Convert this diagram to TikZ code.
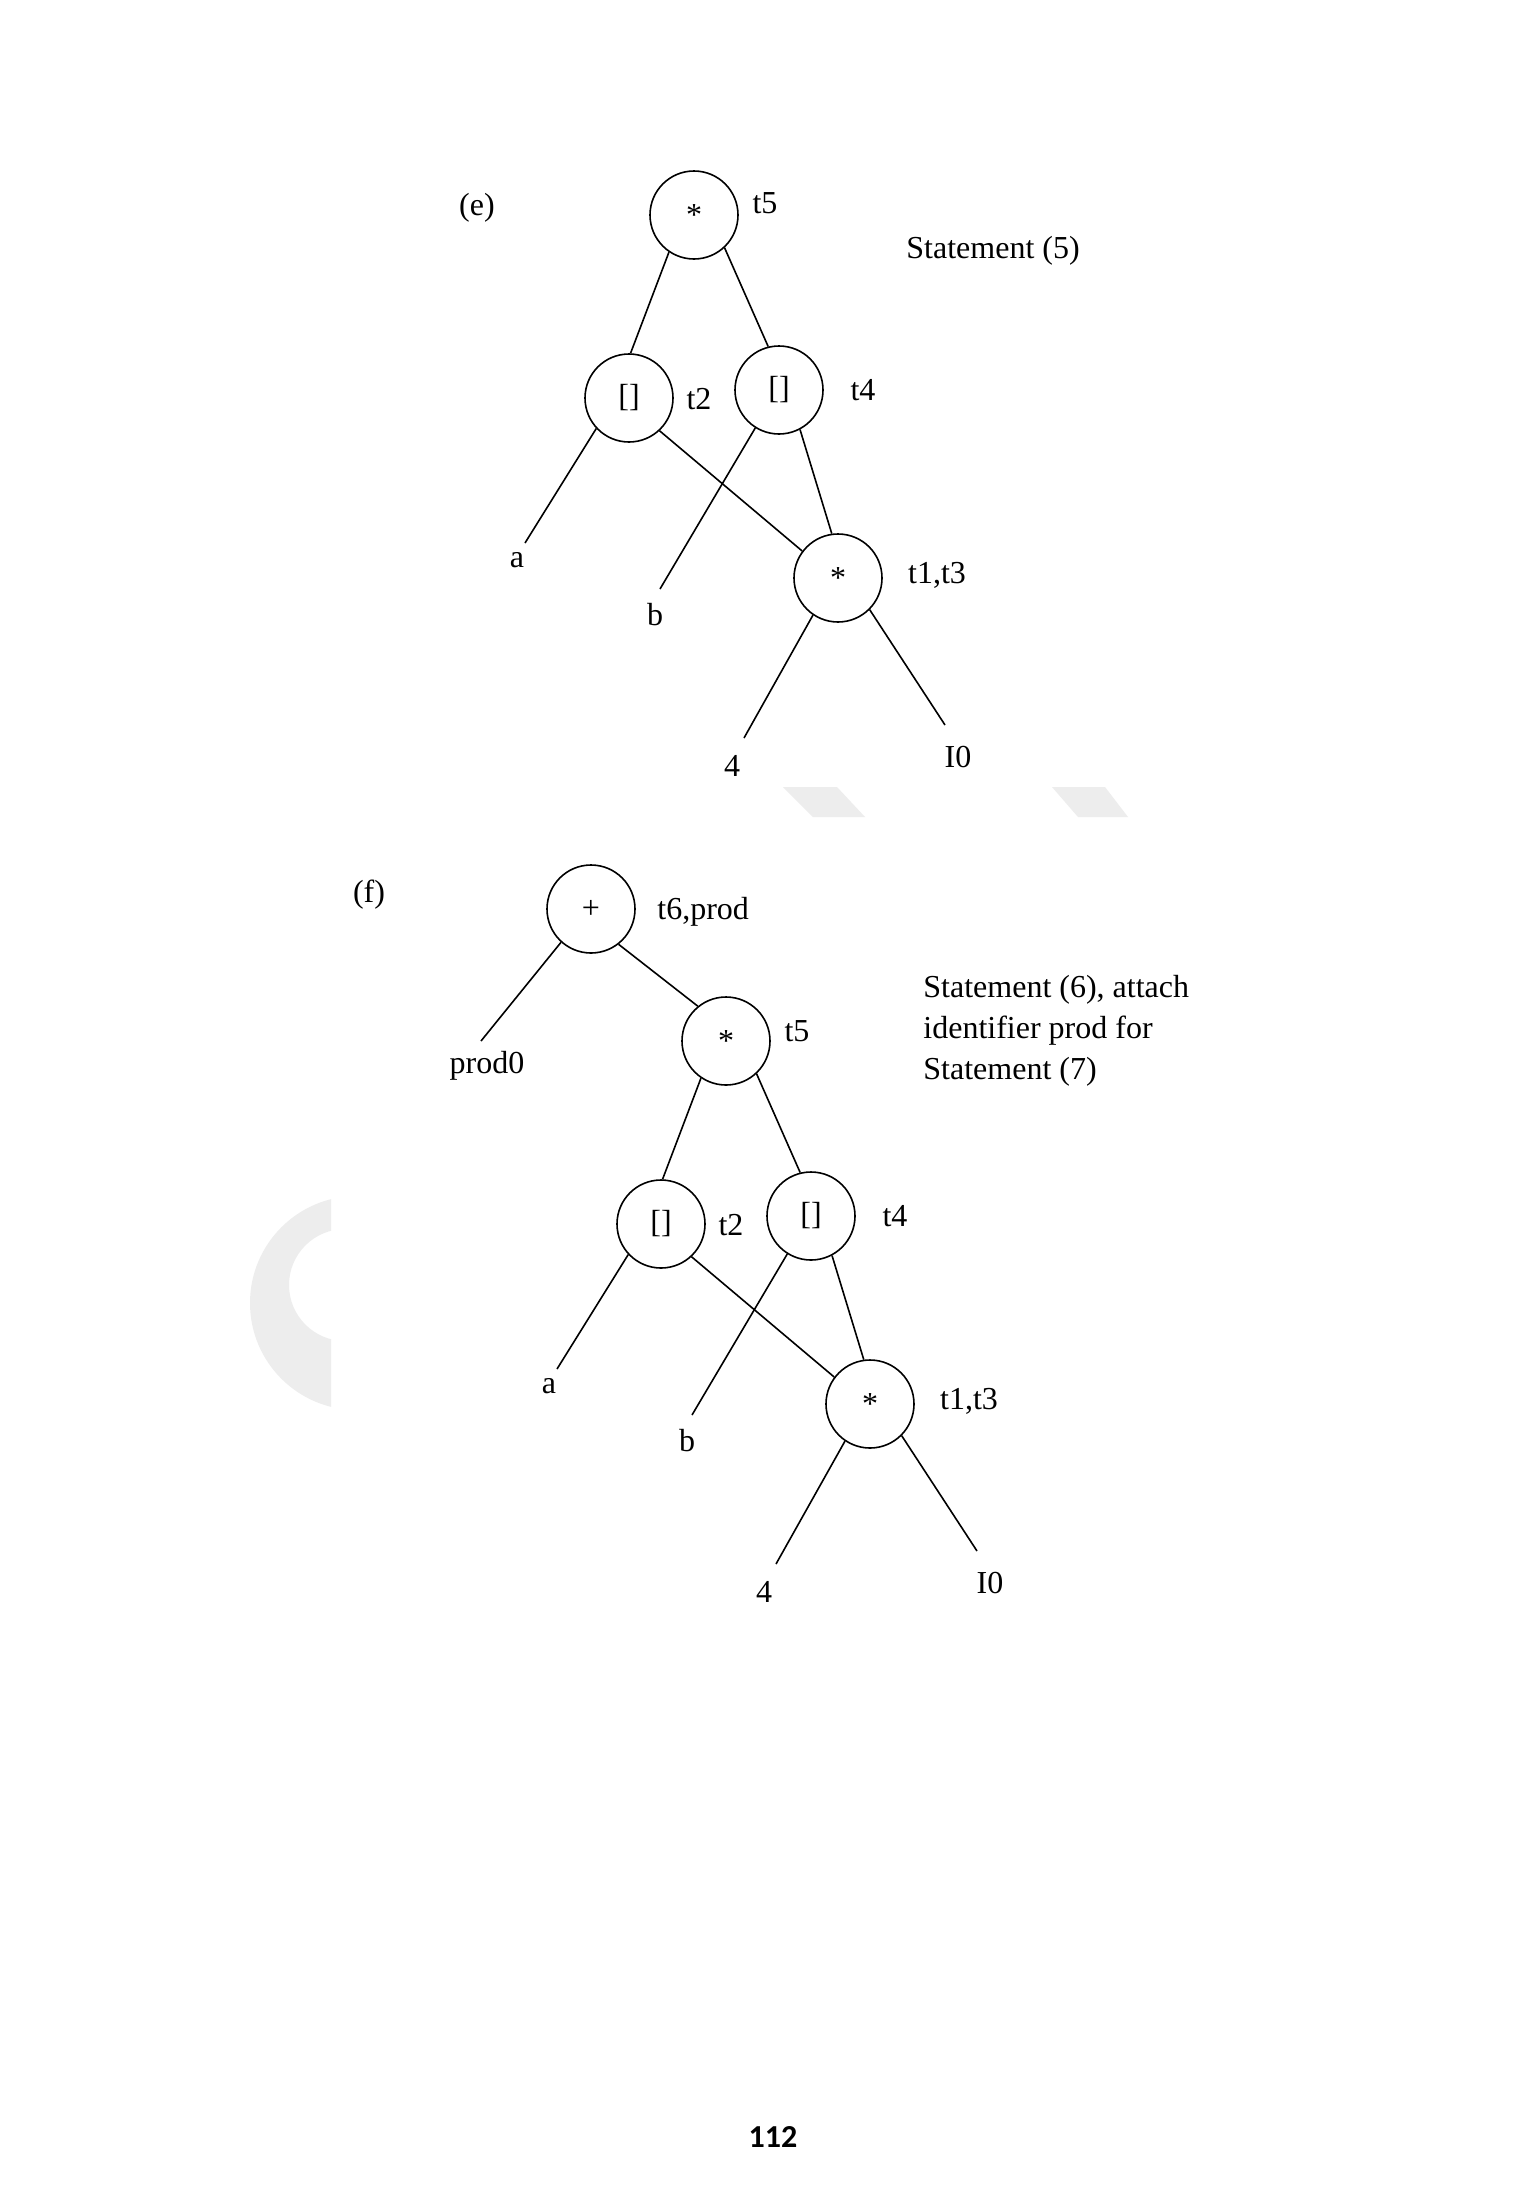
\documentclass[tikz,border=0pt]{standalone}
\usepackage{fontspec}
\setmainfont{Liberation Serif}
\newfontfamily\pagenumfont{Carlito}
\begin{document}
\begin{tikzpicture}[x=0.5pt,y=-0.5pt,
  opnode/.style={circle,draw,line width=0.8pt,minimum size=44pt,inner sep=0pt,font=\fontsize{16}{19}\selectfont},
  lbl/.style={inner sep=0pt,font=\fontsize{16}{19}\selectfont},
  edge/.style={line width=0.8pt},
  wm/.style={fill=black!7,draw=none}]
\useasboundingbox[fill=white] (0,0) rectangle (1528,2200);

% faint watermark remnants
\fill[wm] (783,787) -- (837,787) -- (865,817) -- (813,817) -- cycle;
\fill[wm] (1052,787) -- (1105,787) -- (1128,817) -- (1078,817) -- cycle;
\begin{scope}
  \clip (200,1150) rectangle (331,1420);
  \fill[wm,even odd rule] (357,1303) circle[radius=53.5pt] (345,1285) circle[radius=28pt];
\end{scope}

% ---------------- (e) ----------------
\node[lbl] (labe) at (477,208) {(e)};
\node[lbl,anchor=west] (st5) at (906,251) {Statement (5)};

\node[opnode] (E5) at (694,215) {*};
\node[opnode] (E2) at (629,398) {[]};
\node[opnode] (E4) at (779,390) {[]};
\node[opnode] (E13) at (838,578) {*};

\node[lbl] (E5l) at (765,203) {t5};
\node[lbl] (E2l) at (699,399) {t2};
\node[lbl] (E4l) at (863,390) {t4};
\node[lbl] (E13l) at (937,575) {t1,t3};

\node[lbl] (Ea) at (517,560) {a};
\node[lbl] (Eb) at (655,615) {b};
\node[lbl] (E4n) at (732,766) {4};
\node[lbl] (EI) at (958,757) {I0};

\coordinate (ea) at (525,543);
\coordinate (eb) at (660,589);
\coordinate (e4) at (744,738);
\coordinate (eI) at (945,725);

\draw[edge] (E5.236) -- (E2.88);
\draw[edge] (E5.313) -- (E4.104);
\draw[edge] (E2.223) -- (ea);
\draw[edge] (E2.313) -- (E13.143);
\draw[edge] (E4.238) -- (eb);
\draw[edge] (E4.298) -- (E13.98);
\draw[edge] (E13.236) -- (e4);
\draw[edge] (E13.315) -- (eI);

% ---------------- (f) ----------------
\node[lbl] (labf) at (369,895) {(f)};
\node[lbl,anchor=west,align=left,font=\fontsize{16}{20.5}\selectfont] (st6) at (923,1031)
  {Statement (6), attach\\identifier prod for\\Statement (7)};

\node[opnode] (F6) at (591,909) {+};
\node[opnode] (F5) at (726,1041) {*};
\node[opnode] (F2) at (661,1224) {[]};
\node[opnode] (F4) at (811,1216) {[]};
\node[opnode] (F13) at (870,1404) {*};

\node[lbl,anchor=west] (F6l) at (657,912) {t6,prod};
\node[lbl] (F5l) at (797,1031) {t5};
\node[lbl] (F2l) at (731,1225) {t2};
\node[lbl] (F4l) at (895,1216) {t4};
\node[lbl] (F13l) at (969,1401) {t1,t3};

\node[lbl] (Fp) at (487,1066) {prod0};
\node[lbl] (Fa) at (549,1386) {a};
\node[lbl] (Fb) at (687,1441) {b};
\node[lbl] (F4n) at (764,1592) {4};
\node[lbl] (FI) at (990,1583) {I0};

\coordinate (fp) at (481,1041);
\coordinate (fa) at (557,1369);
\coordinate (fb) at (692,1415);
\coordinate (f4) at (776,1564);
\coordinate (fI) at (977,1551);

\draw[edge] (F6.228) -- (fp);
\draw[edge] (F6.308) -- (F5.129);
\draw[edge] (F5.236) -- (F2.88);
\draw[edge] (F5.313) -- (F4.104);
\draw[edge] (F2.223) -- (fa);
\draw[edge] (F2.313) -- (F13.143);
\draw[edge] (F4.238) -- (fb);
\draw[edge] (F4.298) -- (F13.98);
\draw[edge] (F13.236) -- (f4);
\draw[edge] (F13.315) -- (fI);

% page number
\node[inner sep=0pt,font=\pagenumfont\bfseries\fontsize{16}{19}\selectfont] (pg) at (773,2137) {112};
\end{tikzpicture}
\end{document}
